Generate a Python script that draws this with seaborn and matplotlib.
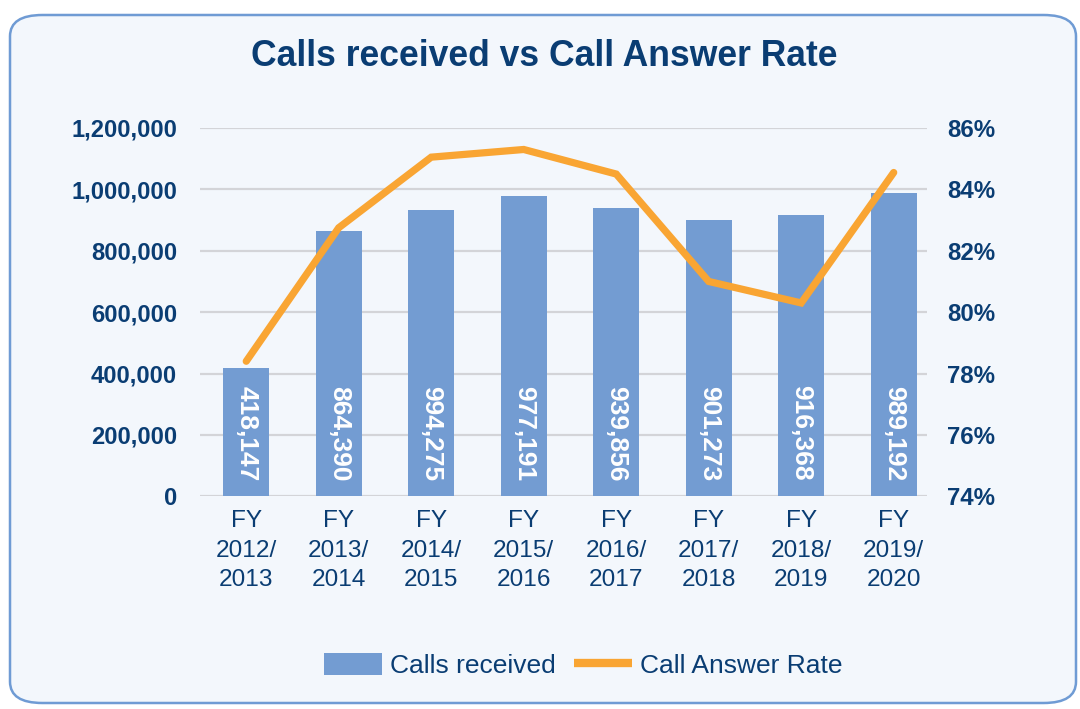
import numpy as np
import pandas as pd
import matplotlib
matplotlib.use('Agg')
import matplotlib.pyplot as plt
import seaborn as sns
from matplotlib.patches import FancyBboxPatch, Patch
from matplotlib.lines import Line2D
from matplotlib.ticker import FuncFormatter

# data
years = ['FY\n2012/\n2013', 'FY\n2013/\n2014', 'FY\n2014/\n2015', 'FY\n2015/\n2016',
         'FY\n2016/\n2017', 'FY\n2017/\n2018', 'FY\n2018/\n2019', 'FY\n2019/\n2020']
calls_received = [418147, 864390, 934275, 977191, 939856, 901273, 916368, 989192]
calls_labels = ['418,147', '864,390', '994,275', '977,191', '939,856', '901,273', '916,368', '989,192']
answer_rate = [78.4, 82.75, 85.05, 85.3, 84.5, 81.0, 80.3, 84.55]

navy = '#0a3d73'
bar_col = '#739cd2'
line_col = '#f9a533'
grid_col = '#d3d4d8'
panel_col = '#f3f7fc'

sns.set_theme(style='white')
plt.rcParams['font.family'] = ['Liberation Sans', 'DejaVu Sans']

df = pd.DataFrame({'year': years, 'calls': calls_received, 'rate': answer_rate})

fig = plt.figure(figsize=(10.8, 7.09), dpi=100)
fig.patch.set_facecolor('white')

# rounded panel behind everything
panel = FancyBboxPatch((10 / 1080, 6 / 709), 1066 / 1080, 688 / 709,
                       boxstyle='round,pad=0,rounding_size=0.03',
                       transform=fig.transFigure, facecolor=panel_col,
                       edgecolor='#6f9bd4', linewidth=1.8, zorder=-5)
fig.patches.append(panel)

ax = fig.add_axes([200 / 1080, 1 - 496.3 / 709, 727 / 1080, 368.3 / 709])
ax.set_facecolor('none')

sns.barplot(data=df, x='year', y='calls', color=bar_col, saturation=1,
            width=0.5, linewidth=0, ax=ax, zorder=2)
ax.set_ylim(0, 1200000)
ax.set_yticks(np.arange(0, 1200001, 200000))
ax.yaxis.set_major_formatter(FuncFormatter(lambda v, p: '{:,.0f}'.format(v)))
ax.grid(axis='y', color=grid_col, linewidth=1.6, zorder=0)
ax.set_axisbelow(True)
for s in ax.spines.values():
    s.set_visible(False)
ax.set_xlabel('')
ax.set_ylabel('')
ax.tick_params(axis='y', length=0, pad=16.5, labelsize=17.1, labelcolor=navy)
ax.tick_params(axis='x', length=0, pad=10, labelsize=17.6, labelcolor=navy)
for lab in ax.get_yticklabels():
    lab.set_fontweight('bold')

for p, txt in zip(ax.patches, calls_labels):
    ax.annotate(txt, (p.get_x() + p.get_width() / 2, 0), xytext=(0, 11),
                textcoords='offset points', rotation=270, ha='center', va='bottom',
                color='white', fontsize=19, fontweight='bold', zorder=4)

ax2 = ax.twinx()
sns.lineplot(data=df, x='year', y='rate', color=line_col, linewidth=5.2,
             ax=ax2, solid_capstyle='round', solid_joinstyle='miter', zorder=5)
ax2.set_ylim(74, 86)
ax2.set_yticks(np.arange(74, 87, 2))
ax2.yaxis.set_major_formatter(FuncFormatter(lambda v, p: '{:.0f}%'.format(v)))
for s in ax2.spines.values():
    s.set_visible(False)
ax2.set_ylabel('')
ax2.grid(False)
ax2.tick_params(axis='y', length=0, pad=14.5, labelsize=17.3, labelcolor=navy)
for lab in ax2.get_yticklabels():
    lab.set_fontweight('bold')

# plot area in the original stops a bit short of the last category slot
ax.set_xlim(-0.5, 7.36)
ax.set_xticks(range(len(years)))
ax.set_xticklabels(years, linespacing=1.45)

fig.text(0.504, 0.921, 'Calls received vs Call Answer Rate', ha='center', va='center',
         fontsize=25.6, fontweight='bold', color=navy)

handles = [Patch(facecolor=bar_col, edgecolor='none'),
           Line2D([0], [0], color=line_col, linewidth=6, solid_capstyle='butt')]
fig.legend(handles, ['Calls received', 'Call Answer Rate'], loc='center',
           bbox_to_anchor=(0.540, 0.061), ncol=2, frameon=False, fontsize=19,
           labelcolor=navy, handlelength=2.2, handleheight=0.9, handletextpad=0.3,
           columnspacing=0.7)

fig.savefig('out.png', dpi=100)
